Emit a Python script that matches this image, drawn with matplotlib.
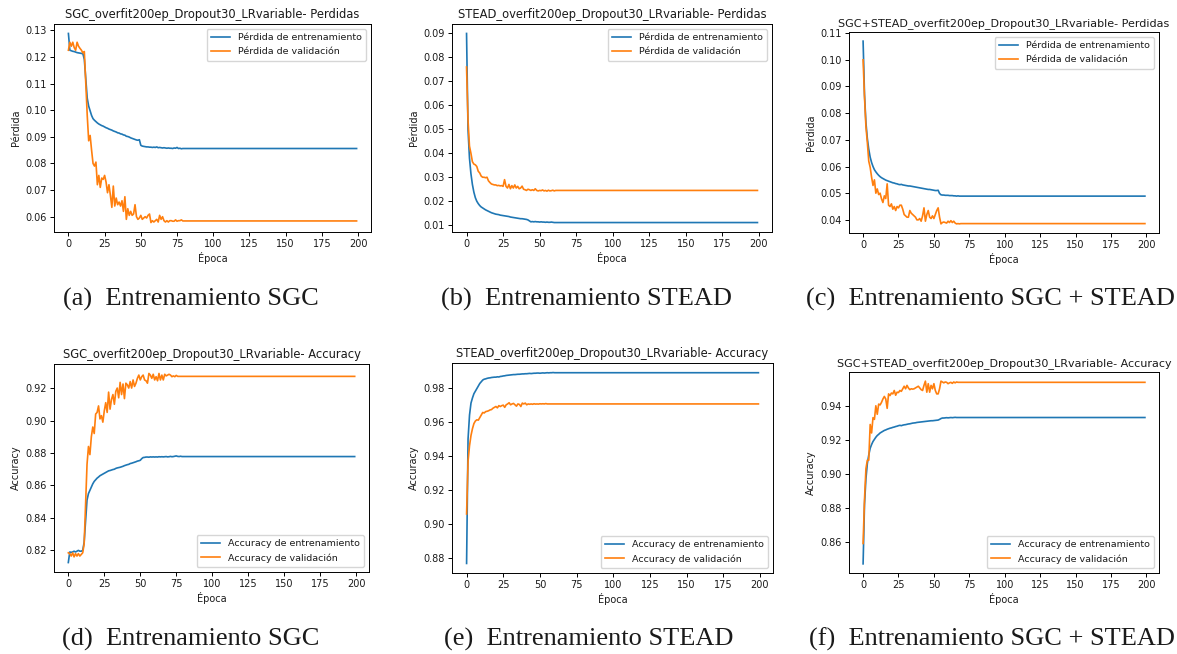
import matplotlib
matplotlib.use("Agg")
import matplotlib.pyplot as plt

EPOCHS = 200

# ---- SGC ----
sgc_train_loss = [
    0.1288, 0.1225, 0.1223, 0.1221, 0.1220, 0.1218, 0.1216, 0.1215, 0.1214, 0.1213,
    0.1212, 0.1190, 0.1120, 0.1045, 0.1015, 0.0998, 0.0980, 0.0968, 0.0962, 0.0957,
    0.0952, 0.0948, 0.0945, 0.0942, 0.0940, 0.0937, 0.0934, 0.0932, 0.0929, 0.0927,
    0.0925, 0.0922, 0.0920, 0.0918, 0.0915, 0.0914, 0.0911, 0.0910, 0.0907, 0.0906,
    0.0902, 0.0901, 0.0899, 0.0896, 0.0894, 0.0892, 0.0890, 0.0888, 0.0887, 0.0889,
    0.0868, 0.0865, 0.0864, 0.0863, 0.0862, 0.0862, 0.0861, 0.0861, 0.0860, 0.0861,
    0.0860, 0.0862, 0.0859, 0.0860, 0.0859, 0.0858, 0.0859, 0.0858, 0.0857, 0.0858,
    0.0857, 0.0857, 0.0856, 0.0858, 0.0857, 0.0860, 0.0856, 0.0857, 0.0855, 0.0856,
]
sgc_train_loss_tail = 0.0856

sgc_val_loss = [
    0.1225, 0.1255, 0.1240, 0.1255, 0.1235, 0.1225, 0.1255, 0.1240, 0.1232, 0.1225,
    0.1215, 0.1220, 0.1100, 0.0980, 0.0885, 0.0905, 0.0850, 0.0800, 0.0790, 0.0805,
    0.0720, 0.0755, 0.0710, 0.0745, 0.0740, 0.0755, 0.0730, 0.0690, 0.0720, 0.0680,
    0.0635, 0.0715, 0.0640, 0.0670, 0.0645, 0.0655, 0.0640, 0.0660, 0.0620, 0.0675,
    0.0590, 0.0630, 0.0605, 0.0620, 0.0605, 0.0610, 0.0645, 0.0600, 0.0590, 0.0595,
    0.0605, 0.0590, 0.0595, 0.0600, 0.0595, 0.0605, 0.0610, 0.0578, 0.0585, 0.0580,
    0.0585, 0.0590, 0.0580, 0.0605, 0.0590, 0.0600, 0.0585, 0.0580, 0.0585, 0.0580,
    0.0585, 0.0585, 0.0583, 0.0583, 0.0588, 0.0583, 0.0585, 0.0585, 0.0588, 0.0584,
]
sgc_val_loss_tail = 0.0584

sgc_train_acc = [
    0.8125, 0.8190, 0.8188, 0.8190, 0.8195, 0.8190, 0.8195, 0.8200, 0.8195, 0.8195,
    0.8200, 0.8250, 0.8380, 0.8510, 0.8550, 0.8570, 0.8590, 0.8610, 0.8625, 0.8635,
    0.8645, 0.8652, 0.8660, 0.8665, 0.8670, 0.8675, 0.8680, 0.8685, 0.8690, 0.8692,
    0.8695, 0.8698, 0.8700, 0.8705, 0.8708, 0.8710, 0.8712, 0.8715, 0.8718, 0.8722,
    0.8725, 0.8728, 0.8730, 0.8735, 0.8737, 0.8740, 0.8743, 0.8746, 0.8750, 0.8752,
    0.8755, 0.8765, 0.8772, 0.8773, 0.8775, 0.8775, 0.8774, 0.8776, 0.8775, 0.8776,
    0.8775, 0.8776, 0.8775, 0.8777, 0.8776, 0.8777, 0.8776, 0.8777, 0.8778, 0.8776,
    0.8777, 0.8779, 0.8777, 0.8778, 0.8780, 0.8782, 0.8779, 0.8778, 0.8780, 0.8778,
]
sgc_train_acc_tail = 0.8778

sgc_val_acc = [
    0.8185, 0.8180, 0.8165, 0.8185, 0.8160, 0.8180, 0.8165, 0.8180, 0.8165, 0.8175,
    0.8185, 0.8240, 0.8480, 0.8730, 0.8840, 0.8790, 0.8900, 0.8960, 0.8920, 0.9040,
    0.9050, 0.9090, 0.9010, 0.9030, 0.8990, 0.9060, 0.9110, 0.9050, 0.9175, 0.9070,
    0.9130, 0.9160, 0.9100, 0.9180, 0.9200, 0.9140, 0.9235, 0.9160, 0.9225, 0.9135,
    0.9230, 0.9220, 0.9200, 0.9240, 0.9200, 0.9250, 0.9210, 0.9230, 0.9260, 0.9280,
    0.9250, 0.9270, 0.9280, 0.9250, 0.9245, 0.9230, 0.9290, 0.9280, 0.9260, 0.9285,
    0.9250, 0.9270, 0.9245, 0.9290, 0.9250, 0.9280, 0.9250, 0.9285, 0.9275, 0.9280,
    0.9285, 0.9280, 0.9270, 0.9275, 0.9270, 0.9278,
]
sgc_val_acc_tail = 0.9272

# ---- STEAD ----
stead_train_loss = [
    0.0900, 0.0500, 0.0380, 0.0315, 0.0270, 0.0238, 0.0215, 0.0200, 0.0190, 0.0182,
    0.0176, 0.0172, 0.0168, 0.0164, 0.0161, 0.0158, 0.0155, 0.0152, 0.0150, 0.0148,
    0.0146, 0.0145, 0.0144, 0.0142, 0.0141, 0.0140, 0.0139, 0.0138, 0.0137, 0.0136,
    0.0134, 0.0133, 0.0132, 0.0131, 0.0130, 0.0129, 0.0128, 0.0127, 0.0127, 0.0126,
    0.0125, 0.0124, 0.0122, 0.0118, 0.0114, 0.0115, 0.0114, 0.0115, 0.0114, 0.0114,
    0.0113, 0.0114, 0.0113, 0.0113, 0.0112, 0.0113, 0.0112, 0.0112, 0.0113, 0.0112,
]
stead_train_loss_tail = 0.0111

stead_val_loss = [
    0.0760, 0.0540, 0.0430, 0.0400, 0.0365, 0.0355, 0.0352, 0.0345, 0.0325, 0.0318,
    0.0305, 0.0300, 0.0300, 0.0298, 0.0300, 0.0285, 0.0278, 0.0272, 0.0270, 0.0268,
    0.0268, 0.0265, 0.0266, 0.0264, 0.0265, 0.0262, 0.0290, 0.0262, 0.0255, 0.0270,
    0.0252, 0.0265, 0.0255, 0.0268, 0.0255, 0.0262, 0.0252, 0.0255, 0.0263, 0.0250,
    0.0248, 0.0245, 0.0250, 0.0248, 0.0245, 0.0248, 0.0245, 0.0252, 0.0245, 0.0243,
    0.0245, 0.0244, 0.0247, 0.0243, 0.0245, 0.0242, 0.0246, 0.0243, 0.0244, 0.0246,
    0.0243,
]
stead_val_loss_tail = 0.0245

stead_train_acc = [
    0.8770, 0.9500, 0.9640, 0.9710, 0.9740, 0.9765, 0.9780, 0.9795, 0.9810, 0.9825,
    0.9835, 0.9845, 0.9850, 0.9852, 0.9855, 0.9857, 0.9858, 0.9860, 0.9861, 0.9862,
    0.9862, 0.9864, 0.9863, 0.9866, 0.9867, 0.9869, 0.9870, 0.9872, 0.9873, 0.9874,
    0.9875, 0.9876, 0.9877, 0.9877, 0.9878, 0.9879, 0.9879, 0.9880, 0.9881, 0.9881,
    0.9882, 0.9882, 0.9883, 0.9884, 0.9883, 0.9884, 0.9885, 0.9885, 0.9886, 0.9886,
    0.9885, 0.9886, 0.9887, 0.9886, 0.9887, 0.9888, 0.9887, 0.9888, 0.9888, 0.9889,
]
stead_train_acc_tail = 0.9888

stead_val_acc = [
    0.9060, 0.9370, 0.9460, 0.9520, 0.9560, 0.9590, 0.9605, 0.9612, 0.9610, 0.9625,
    0.9640, 0.9655, 0.9652, 0.9660, 0.9662, 0.9665, 0.9670, 0.9672, 0.9680, 0.9685,
    0.9690, 0.9682, 0.9695, 0.9690, 0.9695, 0.9698, 0.9685, 0.9700, 0.9705, 0.9712,
    0.9700, 0.9705, 0.9708, 0.9700, 0.9692, 0.9705, 0.9702, 0.9690, 0.9710, 0.9705,
    0.9710, 0.9700, 0.9705, 0.9703, 0.9705, 0.9703, 0.9706, 0.9704, 0.9705, 0.9704,
    0.9706, 0.9705, 0.9706, 0.9705, 0.9707, 0.9705,
]
stead_val_acc_tail = 0.9705

# ---- SGC + STEAD ----
mix_train_loss = [
    0.1070, 0.0870, 0.0765, 0.0705, 0.0665, 0.0635, 0.0615, 0.0600, 0.0588, 0.0580,
    0.0573, 0.0567, 0.0562, 0.0558, 0.0555, 0.0552, 0.0549, 0.0547, 0.0545, 0.0543,
    0.0541, 0.0539, 0.0538, 0.0536, 0.0535, 0.0533, 0.0532, 0.0533, 0.0531, 0.0530,
    0.0529, 0.0528, 0.0527, 0.0527, 0.0526, 0.0525, 0.0524, 0.0523, 0.0522, 0.0521,
    0.0520, 0.0519, 0.0518, 0.0517, 0.0516, 0.0515, 0.0514, 0.0514, 0.0513, 0.0512,
    0.0511, 0.0510, 0.0510, 0.0511, 0.0499, 0.0494, 0.0493, 0.0493, 0.0492, 0.0492,
    0.0492, 0.0491, 0.0491, 0.0491, 0.0490, 0.0490, 0.0489, 0.0490, 0.0489, 0.0489,
    0.0489,
]
mix_train_loss_tail = 0.0489

mix_val_loss = [
    0.1000, 0.0860, 0.0750, 0.0690, 0.0620, 0.0597, 0.0560, 0.0529, 0.0550, 0.0500,
    0.0516, 0.0495, 0.0500, 0.0479, 0.0465, 0.0490, 0.0480, 0.0535, 0.0455, 0.0450,
    0.0460, 0.0440, 0.0450, 0.0435, 0.0450, 0.0445, 0.0455, 0.0455, 0.0440, 0.0420,
    0.0415, 0.0410, 0.0410, 0.0435, 0.0425, 0.0420, 0.0415, 0.0410, 0.0400, 0.0400,
    0.0405, 0.0395, 0.0415, 0.0445, 0.0395, 0.0420, 0.0435, 0.0410, 0.0405, 0.0415,
    0.0405, 0.0420, 0.0435, 0.0445, 0.0410, 0.0385, 0.0390, 0.0392, 0.0390, 0.0388,
    0.0395, 0.0390, 0.0397, 0.0390, 0.0395, 0.0388, 0.0385, 0.0386, 0.0385, 0.0386,
    0.0386,
]
mix_val_loss_tail = 0.0386

mix_train_acc = [
    0.8470, 0.8820, 0.8970, 0.9060, 0.9110, 0.9150, 0.9172, 0.9190, 0.9203, 0.9215,
    0.9225, 0.9232, 0.9240, 0.9245, 0.9250, 0.9255, 0.9258, 0.9262, 0.9265, 0.9268,
    0.9270, 0.9273, 0.9275, 0.9278, 0.9280, 0.9283, 0.9285, 0.9283, 0.9286, 0.9288,
    0.9289, 0.9291, 0.9293, 0.9294, 0.9296, 0.9298, 0.9299, 0.9300, 0.9302, 0.9303,
    0.9304, 0.9305, 0.9306, 0.9307, 0.9308, 0.9309, 0.9310, 0.9311, 0.9312, 0.9312,
    0.9313, 0.9314, 0.9315, 0.9316, 0.9320, 0.9325, 0.9328, 0.9328, 0.9329, 0.9330,
    0.9329, 0.9330, 0.9331, 0.9330, 0.9331, 0.9332,
]
mix_train_acc_tail = 0.9331

mix_val_acc = [
    0.8590, 0.8850, 0.9030, 0.9080, 0.9080, 0.9290, 0.9240, 0.9330, 0.9320, 0.9400,
    0.9350, 0.9410, 0.9405, 0.9420, 0.9440, 0.9455, 0.9440, 0.9385, 0.9470, 0.9460,
    0.9475, 0.9470, 0.9490, 0.9462, 0.9480, 0.9478, 0.9490, 0.9485, 0.9500, 0.9515,
    0.9500, 0.9520, 0.9505, 0.9495, 0.9500, 0.9498, 0.9500, 0.9505, 0.9510, 0.9515,
    0.9505, 0.9495, 0.9490, 0.9520, 0.9545, 0.9480, 0.9530, 0.9480, 0.9520, 0.9500,
    0.9530, 0.9490, 0.9470, 0.9470, 0.9500, 0.9545, 0.9540, 0.9535, 0.9540, 0.9538,
    0.9530, 0.9535, 0.9538, 0.9532, 0.9540, 0.9535, 0.9540, 0.9538,
]
mix_val_acc_tail = 0.9538

titles = [
    "SGC_overfit200ep_Dropout30_LRvariable- Perdidas",
    "STEAD_overfit200ep_Dropout30_LRvariable- Perdidas",
    "SGC+STEAD_overfit200ep_Dropout30_LRvariable- Perdidas",
    "SGC_overfit200ep_Dropout30_LRvariable- Accuracy",
    "STEAD_overfit200ep_Dropout30_LRvariable- Accuracy",
    "SGC+STEAD_overfit200ep_Dropout30_LRvariable- Accuracy",
]
captions = [
    "(a)  Entrenamiento SGC",
    "(b)  Entrenamiento STEAD",
    "(c)  Entrenamiento SGC + STEAD",
    "(d)  Entrenamiento SGC",
    "(e)  Entrenamiento STEAD",
    "(f)  Entrenamiento SGC + STEAD",
]
loss_labels = ["Pérdida de entrenamiento", "Pérdida de validación"]
acc_labels = ["Accuracy de entrenamiento", "Accuracy de validación"]


def full(values, tail):
    return values + [tail] * (EPOCHS - len(values))


panels = [
    (full(sgc_train_loss, sgc_train_loss_tail), full(sgc_val_loss, sgc_val_loss_tail), "Pérdida", loss_labels, "upper right"),
    (full(stead_train_loss, stead_train_loss_tail), full(stead_val_loss, stead_val_loss_tail), "Pérdida", loss_labels, "upper right"),
    (full(mix_train_loss, mix_train_loss_tail), full(mix_val_loss, mix_val_loss_tail), "Pérdida", loss_labels, "upper right"),
    (full(sgc_train_acc, sgc_train_acc_tail), full(sgc_val_acc, sgc_val_acc_tail), "Accuracy", acc_labels, "lower right"),
    (full(stead_train_acc, stead_train_acc_tail), full(stead_val_acc, stead_val_acc_tail), "Accuracy", acc_labels, "lower right"),
    (full(mix_train_acc, mix_train_acc_tail), full(mix_val_acc, mix_val_acc_tail), "Accuracy", acc_labels, "lower right"),
]

W, H = 1177, 654
# axes boxes in pixels: left, top, right, bottom
boxes = [
    (54, 24, 371, 232),
    (452, 24, 772, 232),
    (849, 32, 1159, 233),
    (54, 364, 369, 572),
    (452, 363, 773, 573),
    (849, 372, 1159, 573),
]
title_sizes = [8.3, 8.3, 8.0, 8.3, 8.3, 8.0]
caption_pos = [(191, 299), (586, 299), (990, 299), (191, 639), (589, 639), (992, 639)]

plt.rcParams["font.family"] = "DejaVu Sans"
plt.rcParams["text.color"] = "#1a1a1a"
plt.rcParams["axes.labelcolor"] = "#1a1a1a"
plt.rcParams["xtick.labelcolor"] = "#1a1a1a"
plt.rcParams["ytick.labelcolor"] = "#1a1a1a"
fig = plt.figure(figsize=(W / 100, H / 100), dpi=100)
fig.patch.set_facecolor("white")

epochs = list(range(EPOCHS))
for (train, val, ylabel, labels, loc), box, title, tsize in zip(panels, boxes, titles, title_sizes):
    l, t, r, b = box
    ax = fig.add_axes([l / W, 1 - b / H, (r - l) / W, (b - t) / H])
    ax.plot(epochs, train, color="#1f77b4", lw=1.2, label=labels[0])
    ax.plot(epochs, val, color="#ff7f0e", lw=1.2, label=labels[1])
    ax.set_title(title, fontsize=tsize, pad=4)
    ax.set_xlabel("Época", fontsize=7, labelpad=2)
    ax.set_ylabel(ylabel, fontsize=7, labelpad=3)
    ax.tick_params(labelsize=7, length=3, width=0.7, pad=2)
    ax.set_xticks([0, 25, 50, 75, 100, 125, 150, 175, 200])
    for s in ax.spines.values():
        s.set_linewidth(0.7)
    ax.legend(loc=loc, fontsize=6.8, handlelength=2.0, borderpad=0.5,
              labelspacing=0.5, handletextpad=0.8)

for (cx, cy), cap in zip(caption_pos, captions):
    fig.text(cx / W, 1 - cy / H, cap, ha="center", va="center",
             fontsize=19, family="Liberation Serif")

fig.savefig("out.png", dpi=100, facecolor="white")
